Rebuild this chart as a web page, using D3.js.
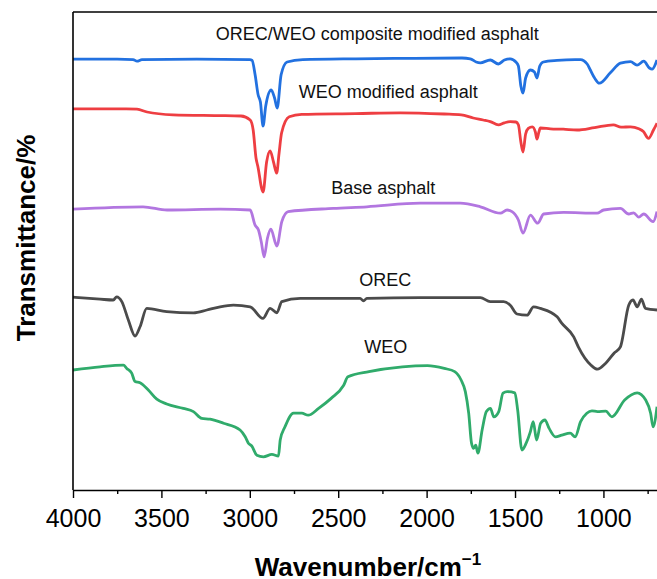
<!DOCTYPE html>
<html>
<head>
<meta charset="utf-8">
<script src="https://cdn.jsdelivr.net/npm/d3@7"></script>
<style>
  body { margin: 0; background: #fff; }
  text { font-family: "Liberation Sans", Arial, sans-serif; }
</style>
</head>
<body>
<div id="chart"></div>
<script>
// --- data (wavenumber cm-1, transmittance a.u., stacked with offsets) ----------
var orecWeoSpectrum = [
  [4000,107.7],[3750,107.7],[3660,107.6],[3638,107.2],[3610,107.6],[3300,107.7],[3000,107.6],
  [2987,107.4],[2970,103.8],[2953,98.8],[2940,97],[2925,91],[2910,96],[2879,100],[2860,98],
  [2845,95.5],[2823,103.8],[2789,107],[2700,107.6],[2400,107.8],[2149,107.9],[1800,108],
  [1753,107.8],[1720,107],[1696,106.8],[1640,107.5],[1594,106.5],[1560,107.5],[1527,107.8],
  [1495,107],[1481,106],[1467,101],[1455,99.2],[1440,103],[1413,105],[1390,104.5],[1376,103],
  [1360,106],[1340,107],[1262,107.4],[1160,107.6],[1130,107.6],[1092,106.5],[1074,105],
  [1050,103],[1023,101.7],[961,104.3],[904,106.7],[847,107.1],[810,106.2],[772,107.2],
  [740,105.5],[725,105.2],[697,107.5]
]

var weoModSpectrum = [
  [4000,95.3],[3700,95.3],[3638,95.2],[3581,94.5],[3434,93.8],[3185,93.6],[3050,93.5],
  [2998,92.5],[2981,90],[2965,83],[2955,81],[2925,74.5],[2905,82],[2885,84.8],[2866,82],
  [2848,79.2],[2835,84],[2820,89.3],[2777,93.3],[2706,93.9],[2400,94.1],[2149,94.3],
  [1900,94],[1804,93.8],[1736,93],[1680,92.5],[1640,92.1],[1594,91.3],[1560,91.8],
  [1527,92.1],[1495,92],[1481,91.3],[1467,87],[1455,84.5],[1440,89],[1425,90.4],[1402,90.8],
  [1385,89.5],[1376,87.7],[1365,89.5],[1357,90.5],[1300,90.3],[1227,90.2],[1149,90],
  [1050,90.6],[944,91.3],[900,90.7],[847,90.8],[800,90.3],[774,89.6],[745,87.9],[717,90],
  [697,91.7]
]

var baseSpectrum = [
  [4000,70.2],[3604,70.8],[3468,70],[3168,70.2],[2998,70],[2970,66.2],[2951,65],[2935,62],
  [2919,58.3],[2900,63],[2881,65.2],[2847,61],[2819,67.1],[2783,69.6],[2528,70.4],
  [2338,70.8],[2036,71.7],[1810,71.7],[1696,70.8],[1583,69.2],[1545,70],[1517,69.6],
  [1481,67.5],[1455,64.2],[1413,68.7],[1372,66.7],[1338,69],[1225,69.4],[1036,69.2],
  [999,70],[904,70.4],[857,69],[829,69.3],[800,68.2],[772,69],[719,67.1],[697,69.6]
]

var orecSpectrum = [
  [4000,48.2],[3847,47.7],[3772,47.5],[3753,48.3],[3724,47.1],[3687,42.5],[3649,38.5],
  [3621,40.8],[3583,45.4],[3470,44.6],[3319,44.3],[3243,45],[3168,45.8],[3093,46.2],
  [2998,45.8],[2926,42.9],[2885,45.4],[2847,44.3],[2819,47.1],[2715,47.9],[2376,47.9],
  [2357,47.3],[2338,47.9],[2036,48.1],[1696,48.1],[1640,47.1],[1565,47.1],[1527,46.2],
  [1489,44],[1432,43.7],[1395,45.8],[1357,45.4],[1262,43.3],[1236,41.7],[1168,38.3],
  [1142,35.8],[1070,31.2],[1034,30.2],[987,31.7],[940,34.2],[904,35.8],[857,46.2],
  [833,47.5],[809,45.8],[785,47.7],[762,45.4],[697,45]
]

var weoSpectrum = [
  [4000,30],[3847,30.8],[3715,31.2],[3696,30.4],[3668,29.2],[3649,27.1],[3621,26.8],
  [3574,25],[3526,22.7],[3470,21.5],[3376,20.4],[3319,19.6],[3272,17.9],[3225,17.7],
  [3149,16.7],[3055,15],[3026,13.3],[3008,11.7],[2989,11],[2960,8.7],[2923,8.3],
  [2875,8.9],[2838,8.5],[2828,12.5],[2801,15.8],[2753,19.2],[2706,19.2],[2670,18.7],
  [2611,20.4],[2540,22.9],[2469,26.2],[2445,28.3],[2326,29.6],[2137,30.8],[1995,31.1],
  [1900,30.4],[1841,29.6],[1805,27.5],[1781,24.6],[1762,19.2],[1746,11.7],[1734,10.4],
  [1722,11.2],[1710,9.2],[1686,15],[1662,19.6],[1639,20.4],[1620,18.3],[1592,19.6],
  [1568,24.2],[1544,24.6],[1501,24.3],[1485,20],[1461,10],[1437,11.7],[1413,14.6],
  [1397,17.1],[1378,12.5],[1355,16.7],[1331,17.5],[1307,15.4],[1271,13.3],[1236,13.7],
  [1188,14.2],[1160,13.3],[1129,17.1],[1094,19.2],[1065,19.8],[1034,19.6],[987,19.7],
  [952,18.3],[880,22.5],[809,24.3],[761,22.5],[733,19.2],[719,15.8],[697,20.8]
]

var seriesNames = ['OREC/WEO composite modified asphalt', 'WEO modified asphalt',
                   'Base asphalt', 'OREC', 'WEO']
var majorTicks = [4000, 3500, 3000, 2500, 2000, 1500, 1000]
var minorTicks = [3750, 3250, 2750, 2250, 1750, 1250, 750]

// --- chart --------------------------------------------------------------------
function ftirChart() {
  var width = 657,
      height = 579,
      plotLeft = 73,
      plotTop = 12,
      plotBottom = 490

  var series = [
    { name: seriesNames[0], values: orecWeoSpectrum, color: '#2271E0', lx: 2279, ly: 112.5 },
    { name: seriesNames[1], values: weoModSpectrum,  color: '#EE3E42', lx: 2217, ly: 98 },
    { name: seriesNames[2], values: baseSpectrum,    color: '#B276E0', lx: 2245, ly: 74 },
    { name: seriesNames[3], values: orecSpectrum,    color: '#4B4B4B', lx: 2234, ly: 51 },
    { name: seriesNames[4], values: weoSpectrum,     color: '#30AB6B', lx: 2231, ly: 34.3 }
  ]

  var x = d3.scaleLinear().domain([4000, 697]).range([plotLeft, width])
  var y = d3.scaleLinear().domain([0, 119.5]).range([plotBottom, plotTop])

  var svg = d3.select('#chart').append('svg')
    .attr('width', width)
    .attr('height', height)

  svg.append('clipPath').attr('id', 'plot-clip')
    .append('rect')
      .attr('x', plotLeft).attr('y', plotTop)
      .attr('width', width - plotLeft).attr('height', plotBottom - plotTop)

  var line = d3.line()
    .x((d) => x(d[0]))
    .y((d) => y(d[1]))
    .curve(d3.curveMonotoneX)

  svg.append('g')
    .attr('clip-path', 'url(#plot-clip)')
    .selectAll('path')
    .data(series)
    .enter().append('path')
      .attr('d', (d) => line(d.values))
      .attr('fill', 'none')
      .attr('stroke', (d) => d.color)
      .attr('stroke-width', 2.8)
      .attr('stroke-linejoin', 'round')

  // curve labels
  svg.append('g')
    .selectAll('text')
    .data(series)
    .enter().append('text')
      .attr('x', (d) => x(d.lx))
      .attr('y', (d) => y(d.ly))
      .attr('text-anchor', 'middle')
      .style('font-size', '18px')
      .style('fill', '#111')
      .text((d) => d.name)

  // minor ticks
  svg.append('g')
    .attr('transform', `translate(0,${plotBottom})`)
    .call(d3.axisBottom(x).tickValues(minorTicks).tickSize(4).tickFormat(''))
    .call((g) => g.select('.domain').remove())
    .selectAll('line').attr('stroke-width', 1.4)

  // x axis
  var xAxis = svg.append('g')
    .attr('transform', `translate(0,${plotBottom})`)
    .call(d3.axisBottom(x).tickValues(majorTicks).tickSize(8).tickSizeOuter(0)
      .tickPadding(11).tickFormat(d3.format('d')))

  xAxis.select('.domain').attr('stroke-width', 1.6)
  xAxis.selectAll('.tick line').attr('stroke-width', 1.4)
  xAxis.selectAll('.tick text')
    .style('font-size', '25px')
    .style('font-family', '"Liberation Sans", Arial, sans-serif')
    .style('fill', '#000')

  // frame: left and top
  svg.append('line')
    .attr('x1', plotLeft).attr('x2', plotLeft)
    .attr('y1', plotTop).attr('y2', plotBottom)
    .attr('stroke', '#000').attr('stroke-width', 1.6)

  svg.append('line')
    .attr('x1', plotLeft).attr('x2', width)
    .attr('y1', plotTop).attr('y2', plotTop)
    .attr('stroke', '#000').attr('stroke-width', 1.6)

  // axis titles
  var xTitle = svg.append('text')
    .attr('x', 368)
    .attr('y', 576)
    .attr('text-anchor', 'middle')
    .style('font-size', '26px')
    .style('font-weight', 'bold')

  xTitle.append('tspan').text('Wavenumber/cm')
  xTitle.append('tspan')
    .attr('dy', -11)
    .style('font-size', '17px')
    .text('\u22121')

  svg.append('text')
    .attr('transform', 'translate(35,238) rotate(-90)')
    .attr('text-anchor', 'middle')
    .style('font-size', '26px')
    .style('font-weight', 'bold')
    .text('Transmittance/%')
}

ftirChart()
</script>
</body>
</html>
